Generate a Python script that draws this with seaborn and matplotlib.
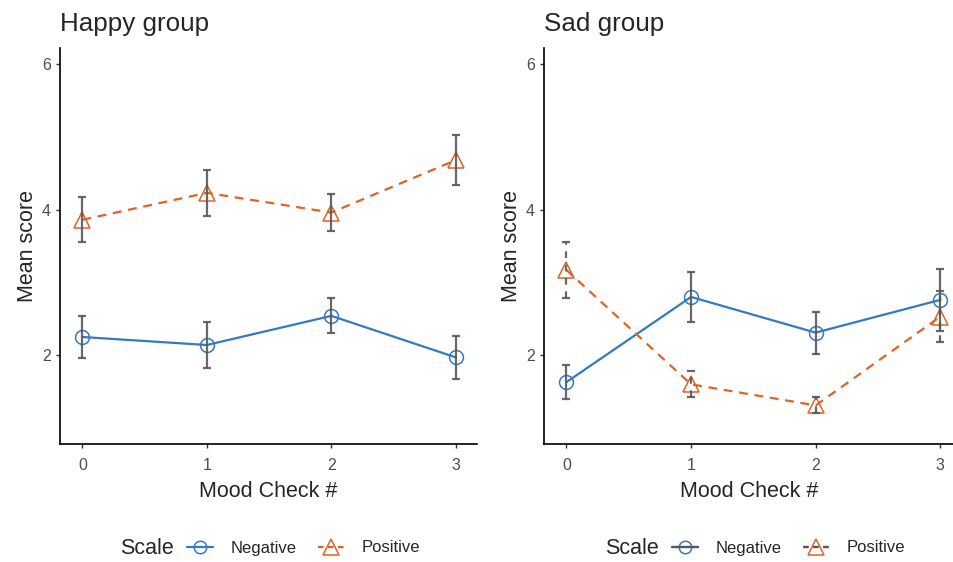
import pandas as pd
import matplotlib
matplotlib.use("Agg")
import matplotlib.pyplot as plt
from matplotlib.lines import Line2D
from matplotlib.legend_handler import HandlerTuple
import seaborn as sns

# mood checks on the x axis
checks = [0, 1, 2, 3]

# Happy group: means and standard errors
happy_neg = [2.25, 2.14, 2.54, 1.97]
happy_neg_se = [0.29, 0.31, 0.24, 0.30]
happy_pos = [3.86, 4.23, 3.96, 4.68]
happy_pos_se = [0.31, 0.32, 0.25, 0.34]

# Sad group: means and standard errors
sad_neg = [1.63, 2.80, 2.31, 2.76]
sad_neg_se = [0.23, 0.34, 0.29, 0.43]
sad_pos = [3.17, 1.60, 1.31, 2.53]
sad_pos_se = [0.38, 0.18, 0.11, 0.35]

scales = ["Negative", "Positive"]
colors = {"Negative": "#3579C0", "Positive": "#DC6428"}
err_color = "#575757"
dash = (4, 3)

sns.set_theme(style="ticks")
plt.rcParams["font.family"] = ["Liberation Sans", "DejaVu Sans"]


def long_frame(neg, pos):
    return pd.DataFrame({
        "check": checks * 2,
        "mean": neg + pos,
        "scale": ["Negative"] * 4 + ["Positive"] * 4,
    })


def draw_panel(ax, title, neg, neg_se, pos, pos_se, dashed_err):
    df = long_frame(neg, pos)
    sns.lineplot(data=df, x="check", y="mean", hue="scale", style="scale",
                 palette=colors, markers={"Negative": "o", "Positive": "^"},
                 dashes={"Negative": "", "Positive": dash},
                 linewidth=1.6, markersize=10, legend=False, ax=ax, zorder=2)
    for line in ax.lines:
        line.set_markerfacecolor("none")
        line.set_markeredgecolor(line.get_color())
        line.set_markeredgewidth(1.1)
        if line.get_marker() == "^":
            line.set_markersize(12)

    for vals, se, sc in [(neg, neg_se, "Negative"), (pos, pos_se, "Positive")]:
        eb = ax.errorbar(checks, vals, yerr=se, fmt="none", ecolor=err_color,
                         elinewidth=1.6, capsize=3, capthick=1.6, zorder=3,
                         alpha=0.9)
        if dashed_err and sc == "Positive":
            eb[2][0].set_linestyle((0, (3, 3)))

    ax.set_xlim(-0.18, 3.17)
    ax.set_ylim(0.78, 6.22)
    ax.set_xticks(checks)
    ax.set_yticks([2, 4, 6])
    ax.set_title(title, loc="left", fontsize=18.7, pad=12)
    ax.set_xlabel("Mood Check #", fontsize=15.5, labelpad=6)
    ax.set_ylabel("Mean score", fontsize=15.5, labelpad=3)
    ax.tick_params(labelsize=11.5, colors="#333333", labelcolor="#4D4D4D",
                   length=3, width=1)
    ax.tick_params(axis="x", pad=7)
    for s in ["left", "bottom"]:
        ax.spines[s].set_linewidth(1.2)
        ax.spines[s].set_color("black")
    sns.despine(ax=ax)


fig = plt.figure(figsize=(9.54, 5.62), dpi=100)
ax1 = fig.add_axes([60 / 954, 118 / 562, 417 / 954, 396 / 562])
ax2 = fig.add_axes([544 / 954, 118 / 562, 410 / 954, 396 / 562])

draw_panel(ax1, "Happy group", happy_neg, happy_neg_se, happy_pos, happy_pos_se, False)
draw_panel(ax2, "Sad group", sad_neg, sad_neg_se, sad_pos, sad_pos_se, True)
ax2.set_xlim(-0.18, 3.11)


def key(sc):
    return Line2D([], [], color=colors[sc], lw=1.6,
                  ls="-" if sc == "Negative" else (0, (2.5, 2)),
                  marker="o" if sc == "Negative" else "^",
                  ms=9 if sc == "Negative" else 11,
                  mfc="none", mec=colors[sc], mew=1.1)


legend_kw = dict(loc="center left", ncol=2, frameon=False, borderpad=0,
                 borderaxespad=0, handlelength=1.56, handletextpad=1.08,
                 columnspacing=1.26, fontsize=12)

# happy group legend: plain keys
fig.legend([key(s) for s in scales], scales,
           bbox_to_anchor=(187 / 954, 1 - 548 / 562), **legend_kw)
fig.text(120 / 954, 1 - 548 / 562, "Scale", va="center", ha="left", fontsize=15.5)

# sad group legend: keys overlaid with the error bar path
sad_handles = []
for s in scales:
    grey = Line2D([], [], color=err_color, lw=1.6,
                  ls="-" if s == "Negative" else (0, (2.5, 2)))
    sad_handles.append((key(s), grey))
fig.legend(sad_handles, scales, handler_map={tuple: HandlerTuple(ndivide=1)},
           bbox_to_anchor=(672 / 954, 1 - 548 / 562), **legend_kw)
fig.text(605 / 954, 1 - 548 / 562, "Scale", va="center", ha="left", fontsize=15.5)

fig.savefig("out.png", dpi=100)
